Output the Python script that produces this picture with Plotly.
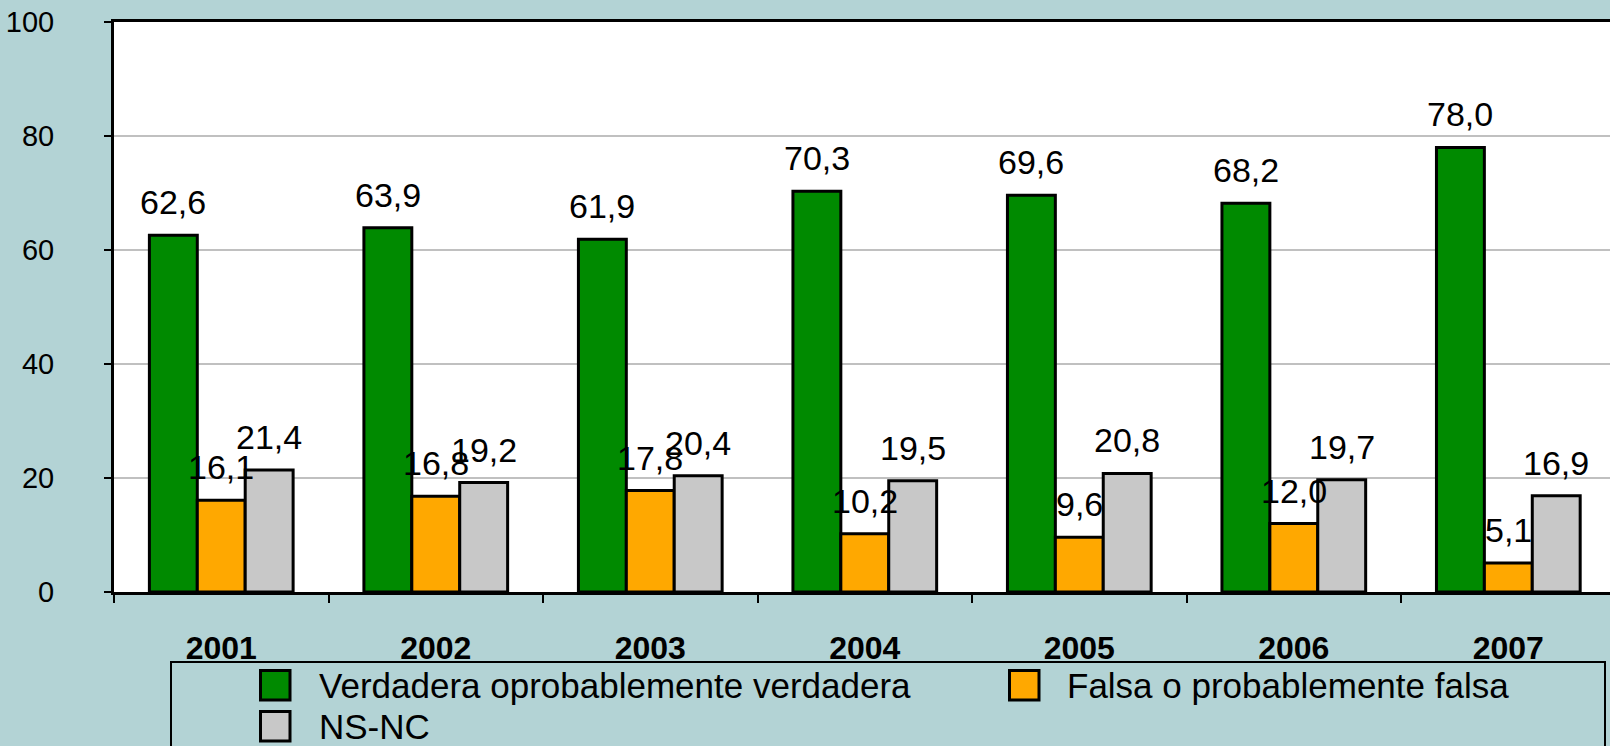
import plotly.graph_objects as go

# survey answers by year (%)
years = ['2001', '2002', '2003', '2004', '2005', '2006', '2007']
verdadera = [62.6, 63.9, 61.9, 70.3, 69.6, 68.2, 78.0]
falsa = [16.1, 16.8, 17.8, 10.2, 9.6, 12.0, 5.1]
nsnc = [21.4, 19.2, 20.4, 19.5, 20.8, 19.7, 16.9]

series_names = ['Verdadera oprobablemente verdadera', 'Falsa o probablemente falsa', 'NS-NC']
series_values = [verdadera, falsa, nsnc]
series_colors = ['#008a00', '#ffa800', '#c8c8c8']

W, H = 1610, 746
L, T, B = 114, 22, 154
BARGAP = 0.33
FONT = 'Arial, Liberation Sans, sans-serif'
BG = '#b3d3d5'


# pixel -> paper coords (for the hand drawn legend box)
def px(x):
    return (x - L) / (W - L)


def py(y):
    return (H - B - y) / (H - B - T)


fig = go.Figure()

for name, vals, color in zip(series_names, series_values, series_colors):
    fig.add_trace(go.Bar(
        x=years,
        y=vals,
        name=name,
        marker=dict(color=color, line=dict(color='black', width=3)),
        showlegend=False
    ))

# value labels above each bar, decimal comma
bw = (1 - BARGAP) / 3
for j, vals in enumerate(series_values):
    for i, v in enumerate(vals):
        fig.add_annotation(
            x=i + (j - 1) * bw, y=v,
            text=f'{v:.1f}'.replace('.', ','),
            showarrow=False, yanchor='bottom', yshift=12,
            font=dict(size=34, color='black', family=FONT)
        )

# legend box
fig.add_shape(type='rect', xref='paper', yref='paper',
              x0=px(171), x1=px(1605), y0=py(662), y1=py(770),
              line=dict(color='black', width=2), fillcolor='rgba(0,0,0,0)')
legend_slots = [(259, 669, 317), (1008, 669, 1065), (259, 710, 317)]
for (sx, sy, tx), name, color in zip(legend_slots, series_names, series_colors):
    fig.add_shape(type='rect', xref='paper', yref='paper',
                  x0=px(sx + 1.5), x1=px(sx + 31), y0=py(sy + 1.5), y1=py(sy + 31),
                  fillcolor=color, line=dict(color='black', width=3))
    fig.add_annotation(xref='paper', yref='paper', x=px(tx), y=py(sy + 16),
                       text=name, showarrow=False, xanchor='left', yanchor='middle',
                       font=dict(size=35, color='black', family=FONT))

fig.update_layout(
    width=W, height=H,
    margin=dict(l=L, r=0, t=T, b=B),
    paper_bgcolor=BG,
    plot_bgcolor='white',
    barmode='group',
    bargap=BARGAP,
    bargroupgap=0,
    font=dict(family=FONT, color='black'),
    showlegend=False
)
fig.update_xaxes(
    type='category', range=[-0.5, 6.474],
    tickson='boundaries', ticks='outside', ticklen=8, tickwidth=2, tickcolor='black',
    showline=True, linecolor='black', linewidth=3, mirror=True,
    showgrid=False,
    tickfont=dict(size=32, weight='bold', color='black'),
    ticklabelstandoff=26
)
fig.update_yaxes(
    range=[0, 100], dtick=20,
    ticks='outside', ticklen=7, tickwidth=2, tickcolor='black',
    showline=True, linecolor='black', linewidth=3,
    gridcolor='#c0c0c0', gridwidth=2, zeroline=False,
    tickfont=dict(size=29, color='black'),
    ticklabelstandoff=44
)

# drop the default page margin so the figure sits at the window corner
fig.write_html("out.html",
               config={'displayModeBar': False},
               post_script="document.body.style.margin='0';"
                           "document.body.style.background='" + BG + "';")
